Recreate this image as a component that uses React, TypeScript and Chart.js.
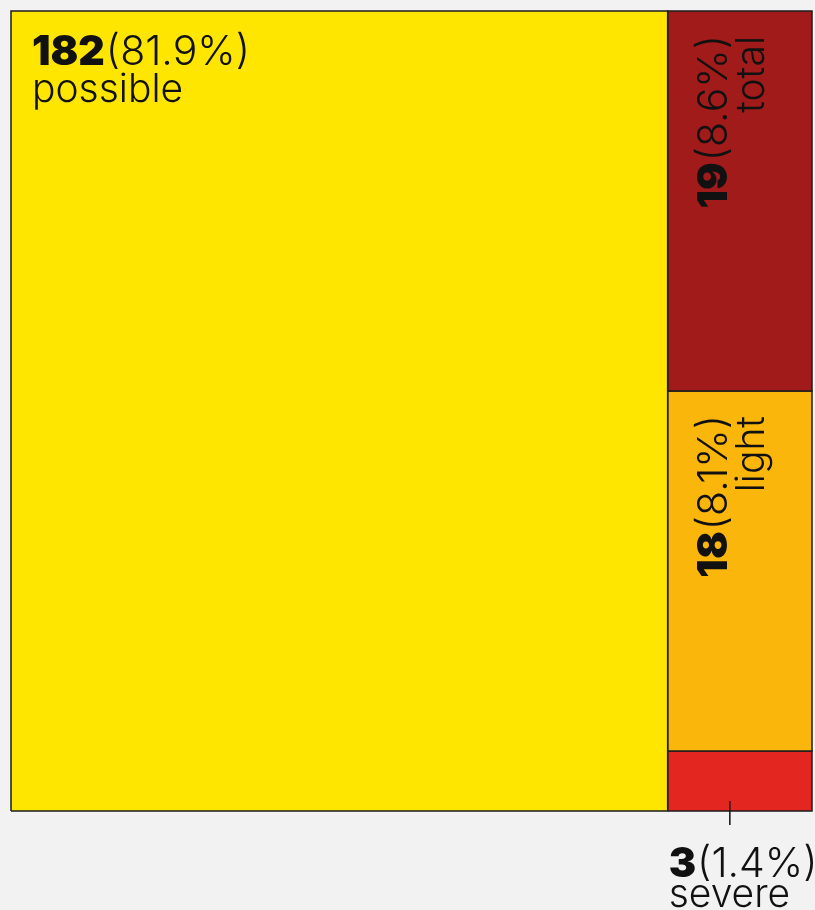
import { useEffect, useRef } from "react";
import { Chart, registerables } from "chart.js";

Chart.register(...registerables);

// ---- data ----
const categories = ["possible", "total", "light", "severe"];
const counts = [182, 19, 18, 3];
const percents = ["81.9%", "8.6%", "8.1%", "1.4%"];
const colors = ["#FFE600", "#A11B1A", "#FAB60B", "#E42620"];

const FONT = "Inter";
const NUM_FONT = `900 41px ${FONT}`;
const PCT_FONT = `300 41px ${FONT}`;
const NAME_FONT = `300 39px ${FONT}`;
const INK = "#111111";

type Rect = { x0: number; x1: number; y0: number; y1: number };

// treemap layout: first category is the left block, the rest stack in the right column (top to bottom)
function layout(): { rects: Rect[]; xMax: number; yMax: number } {
  const total = counts.reduce((a, b) => a + b, 0);
  const rest = counts.slice(1).reduce((a, b) => a + b, 0);
  const rects: Rect[] = [];
  rects.push({ x0: 0, x1: counts[0], y0: 0, y1: rest });
  let top = rest;
  for (let i = 1; i < counts.length; i++) {
    rects.push({ x0: counts[0], x1: total, y0: top - counts[i], y1: top });
    top -= counts[i];
  }
  return { rects, xMax: total, yMax: rest };
}

function drawRich(
  ctx: CanvasRenderingContext2D,
  x: number,
  y: number,
  num: string,
  pct: string,
  align: "left" | "right" | "center"
) {
  ctx.font = NUM_FONT;
  const w1 = ctx.measureText(num).width;
  ctx.font = PCT_FONT;
  const w2 = ctx.measureText(pct).width;
  const w = w1 + w2;
  let sx = x;
  if (align === "right") sx = x - w;
  if (align === "center") sx = x - w / 2;
  ctx.textAlign = "left";
  ctx.font = NUM_FONT;
  ctx.fillText(num, sx, y);
  ctx.font = PCT_FONT;
  ctx.fillText(pct, sx + w1 + 1, y);
}

export default function App() {
  const ref = useRef<HTMLCanvasElement | null>(null);

  useEffect(() => {
    document.body.style.margin = "0";
    document.body.style.background = "#f2f2f3";
    const canvas = ref.current;
    if (!canvas) return;
    const { rects, xMax, yMax } = layout();

    const labelPlugin = {
      id: "treeLabels",
      afterDatasetsDraw(chart: any) {
        const { ctx } = chart;
        const xs = chart.scales.x;
        const ys = chart.scales.y;
        ctx.save();
        ctx.fillStyle = INK;
        ctx.strokeStyle = INK;
        ctx.textBaseline = "alphabetic";
        rects.forEach((r, i) => {
          const L = xs.getPixelForValue(r.x0);
          const R = xs.getPixelForValue(r.x1);
          const T = ys.getPixelForValue(r.y1);
          const B = ys.getPixelForValue(r.y0);
          const w = R - L;
          const h = B - T;
          const num = String(counts[i]);
          const pct = `(${percents[i]})`;
          if (w > 300) {
            drawRich(ctx, L + 21, T + 54, num, pct, "left");
            ctx.font = NAME_FONT;
            ctx.textAlign = "left";
            ctx.fillText(categories[i], L + 21, T + 91);
          } else if (h > 200) {
            ctx.save();
            ctx.translate(L, T);
            ctx.rotate(-Math.PI / 2);
            // rotated frame: +x goes up the screen, +y goes right
            drawRich(ctx, -25, 59, num, pct, "right");
            ctx.font = NAME_FONT;
            ctx.textAlign = "right";
            ctx.fillText(categories[i], -25, 96);
            ctx.restore();
          } else {
            const cx = (L + R) / 2;
            ctx.lineWidth = 1.5;
            ctx.beginPath();
            ctx.moveTo(cx - 10, B - 10);
            ctx.lineTo(cx - 10, B + 14);
            ctx.stroke();
            drawRich(ctx, L + 1, B + 66, num, pct, "left");
            ctx.font = NAME_FONT;
            ctx.textAlign = "left";
            ctx.fillText(categories[i], L + 1, B + 96);
          }
        });
        ctx.restore();
      },
    };

    const chart = new Chart(canvas, {
      type: "scatter",
      data: {
        datasets: rects.map((r, i) => ({
          label: categories[i],
          data: [
            { x: r.x0, y: r.y0 },
            { x: r.x1, y: r.y0 },
            { x: r.x1, y: r.y1 },
            { x: r.x0, y: r.y1 },
            { x: r.x0, y: r.y0 },
          ],
          showLine: true,
          fill: "shape",
          backgroundColor: colors[i],
          borderColor: "#1c1c1c",
          borderWidth: 1.5,
          borderJoinStyle: "miter",
          pointRadius: 0,
          pointHoverRadius: 0,
          tension: 0,
          clip: false,
        })) as any,
      },
      options: {
        animation: false,
        responsive: false,
        events: [],
        layout: { padding: { left: 11, top: 11, right: 3, bottom: 99 } },
        scales: {
          x: { type: "linear", min: 0, max: xMax, display: false },
          y: { type: "linear", min: 0, max: yMax, display: false },
        },
        plugins: { legend: { display: false }, tooltip: { enabled: false } },
      },
      plugins: [labelPlugin],
    });

    return () => chart.destroy();
  }, []);

  return (
    <div style={{ width: 815, height: 910 }}>
      <canvas ref={ref} width={815} height={910} style={{ display: "block" }} />
    </div>
  );
}
